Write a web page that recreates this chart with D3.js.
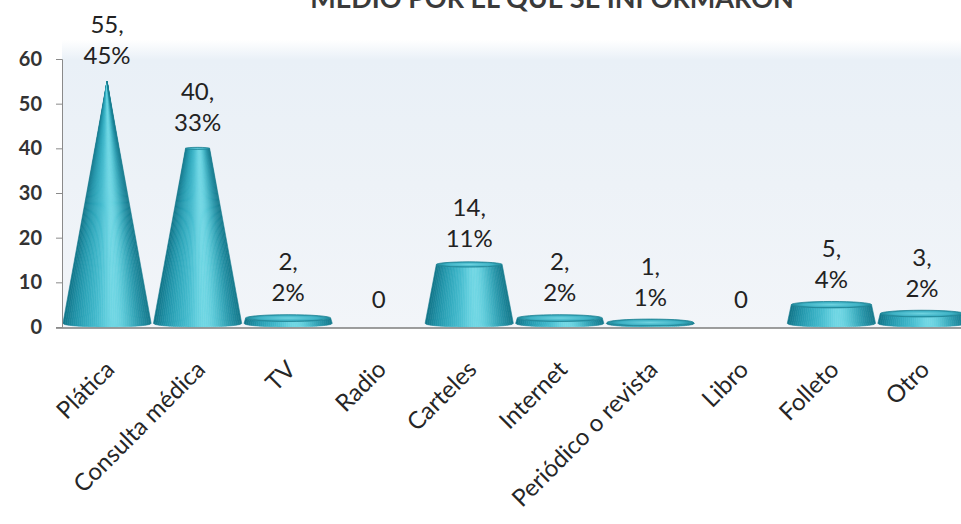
<!DOCTYPE html>
<html>
<head>
<meta charset="utf-8">
<script src="https://cdn.jsdelivr.net/npm/d3@7"></script>
<style>
  html, body { margin: 0; padding: 0; background: #ffffff; }
  svg { display: block; }
  text { font-family: Lato, "Open Sans", sans-serif; }
</style>
</head>
<body>
<svg id="chart" width="961" height="524"></svg>
<script>
// Medios por los que se informaron (frecuencia y porcentaje)
const categories = ["Plática", "Consulta médica", "TV", "Radio", "Carteles",
                    "Internet", "Periódico o revista", "Libro", "Folleto", "Otro"];
const counts     = [55, 40, 2, 0, 14, 2, 1, 0, 5, 3];
const percents   = ["45%", "33%", "2%", "0%", "11%", "2%", "1%", "0%", "4%", "2%"];
const yTicks     = [0, 10, 20, 30, 40, 50, 60];
const titleText  = "MEDIO POR EL QUE SE INFORMARON";

const svg = d3.select("#chart");
const W = 961, H = 524;
const plot = { left: 62, right: 967, top: 59, bottom: 327 };

const x = d3.scaleBand().domain(categories).range([plot.left, plot.right]).paddingInner(0.025).paddingOuter(0.01);
const y = d3.scaleLinear().domain([0, 60]).range([plot.bottom, plot.top]);

const defs = svg.append("defs");
const wall = defs.append("linearGradient").attr("id", "wall").attr("x1", 0).attr("y1", 0).attr("x2", 0).attr("y2", 1);
[[0, "#ffffff"], [0.07, "#e9f0f7"], [0.5, "#edf2f7"], [1, "#f2f5f9"]]
  .forEach(([o, c]) => wall.append("stop").attr("offset", o).attr("stop-color", c));
const topFill = defs.append("radialGradient").attr("id", "capTop");
[[0, "#6fd3e0"], [0.7, "#3fb2c5"], [1, "#1f8799"]]
  .forEach(([o, c]) => topFill.append("stop").attr("offset", o).attr("stop-color", c));

// back wall
svg.append("rect").attr("x", plot.left).attr("y", 40).attr("width", W - plot.left).attr("height", plot.bottom - 40 + 1)
  .attr("fill", "url(#wall)");

// title, running off the top edge
svg.append("text").attr("x", 552).attr("y", 8).attr("text-anchor", "middle")
  .attr("font-size", 27).attr("font-weight", 700).attr("fill", "#3a3a3a").text(titleText);

// cones: full cone height is the largest count, each truncated at its value
const apex = d3.max(counts);
const k = 0.08;                   // ellipse flattening of the 3D view
const shade = d3.interpolateRgbBasis(["#127488", "#2398ad", "#36aec2", "#4cc2d3", "#7fdfeb", "#58c8d7", "#2a9aae", "#16798c"]);
const N = 44;

const coneG = svg.append("g");
categories.forEach((c, i) => {
  const v = counts[i];
  if (v <= 0) return;
  const cx = x(c) + x.bandwidth() / 2;
  const rb = x.bandwidth() / 2;
  const rt = rb * (1 - v / apex);
  const yb = y(0) - rb * k;
  const yt = y(v);
  const g = coneG.append("g");
  for (let s = 0; s < N; s++) {
    const u0 = -1 + 2 * s / N, u1 = -1 + 2 * (s + 1) / N;
    const e0 = Math.sqrt(Math.max(0, 1 - u0 * u0)), e1 = Math.sqrt(Math.max(0, 1 - u1 * u1));
    const col = shade((s + 0.5) / N);
    const pts = [
      [cx + u0 * rb, yb + e0 * rb * k],
      [cx + u1 * rb, yb + e1 * rb * k],
      [cx + u1 * rt, yt + e1 * rt * k],
      [cx + u0 * rt, yt + e0 * rt * k]
    ];
    g.append("path").attr("d", "M" + pts.map(p => p.join(",")).join("L") + "Z")
      .attr("fill", col).attr("stroke", col).attr("stroke-width", 0.6);
  }
  if (rt > 0.5) {
    g.append("ellipse").attr("cx", cx).attr("cy", yt).attr("rx", rt).attr("ry", Math.max(1, rt * k))
      .attr("fill", "url(#capTop)").attr("stroke", "#1e8597").attr("stroke-width", 0.8);
  }
});

// floor line and value axis
svg.append("line").attr("x1", 56).attr("x2", W).attr("y1", y(0) + 1).attr("y2", y(0) + 1)
  .attr("stroke", "#7d7d7d").attr("stroke-width", 1.5);

const yAxis = svg.append("g").attr("transform", `translate(${plot.left},0)`)
  .call(d3.axisLeft(y).tickValues(yTicks).tickSize(6).tickPadding(14));
yAxis.select(".domain").attr("stroke", "#8a8a8a");
yAxis.selectAll(".tick line").attr("stroke", "#8a8a8a");
yAxis.selectAll(".tick text").attr("font-size", 20).attr("font-weight", 700).attr("fill", "#333")
  .attr("font-family", "Lato, sans-serif");

// category labels
const xAxis = svg.append("g").attr("transform", `translate(0,${y(0)})`)
  .call(d3.axisBottom(x).tickSize(0).tickPadding(0));
xAxis.select(".domain").remove();
xAxis.selectAll(".tick text")
  .attr("font-size", 24).attr("fill", "#262626").attr("font-family", "Lato, sans-serif")
  .attr("text-anchor", "end")
  .attr("transform", "translate(9,44) rotate(-45)")
  .attr("dy", "0");

// value labels
const lab = svg.append("g");
categories.forEach((c, i) => {
  const cx = x(c) + x.bandwidth() / 2;
  const v = counts[i];
  const t = lab.append("text").attr("text-anchor", "middle").attr("font-size", 24).attr("fill", "#222");
  if (v === 0) {
    t.attr("x", cx).attr("y", y(v) - 19).text("0");
  } else {
    t.append("tspan").attr("x", cx).attr("y", y(v) - 48).text(v + ",");
    t.append("tspan").attr("x", cx).attr("y", y(v) - 17).text(percents[i]);
  }
});
</script>
</body>
</html>
